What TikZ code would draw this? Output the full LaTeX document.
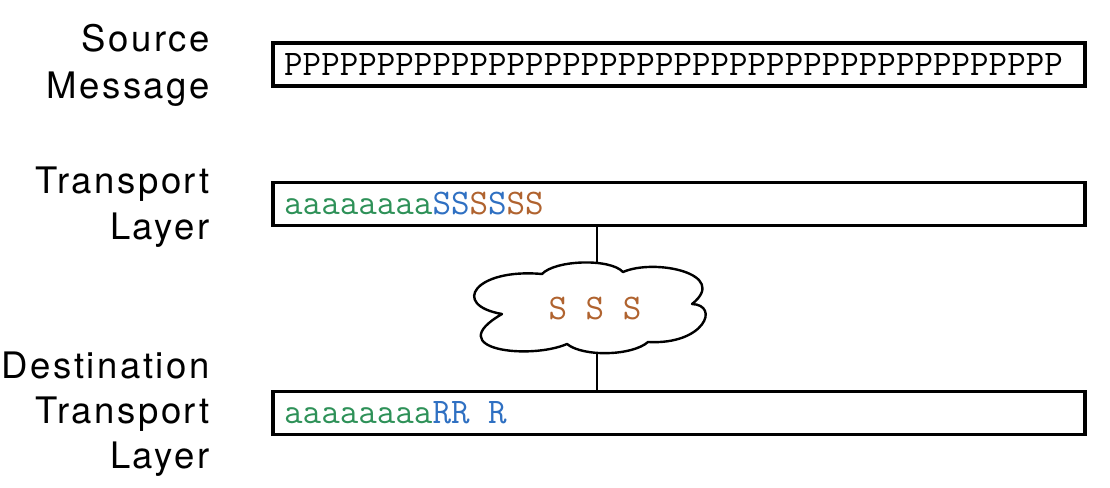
\documentclass[tikz,border=0pt]{standalone}
\usepackage{fontspec}
\newfontfamily\labfont[LetterSpace=7]{TeX Gyre Heros}
\definecolor{cgreen}{HTML}{2E9158}
\definecolor{cblue}{HTML}{2F70C2}
\definecolor{cbrown}{HTML}{B0632F}
\tikzset{
  lab/.style={anchor=base east, inner sep=0pt, font=\labfont\fontsize{36.5}{40}\selectfont},
  msgbox/.style={draw, line width=3.8pt, minimum width=812pt, minimum height=43pt, inner sep=0pt},
  mono/.style={anchor=base west, inner sep=0pt, font=\ttfamily\fontsize{36}{40}\selectfont},
  conn/.style={line width=2pt},
  cloudline/.style={line width=2.4pt, line join=round},
}
\begin{document}
\begin{tikzpicture}[x=1pt,y=-1pt]
\useasboundingbox (0,0) rectangle (1110,487);
% labels
\node[lab] (l1) at (210,52) {Source};
\node[lab] (l2) at (210,98) {Message};
\node[lab] (l3) at (210,193) {Transport};
\node[lab] (l4) at (210,239) {Layer};
\node[lab] (l5) at (210,378) {Destination};
\node[lab] (l6) at (210,423) {Transport};
\node[lab] (l7) at (210,468) {Layer};
% boxes
\node[msgbox] (sbox) at (679,64.5) {};
\node[msgbox] (tbox) at (679,204) {};
\node[msgbox] (dbox) at (679,413) {};
% texts
\node[mono] (stext) at (284,75) {PPPPPPPPPPPPPPPPPPPPPPPPPPPPPPPPPPPPPPPPPP};
\node[mono] (ttext) at (284,214) {\textcolor{cgreen}{aaaaaaaa}\textcolor{cblue}{SS}\textcolor{cbrown}{S}\textcolor{cblue}{S}\textcolor{cbrown}{SS}};
\node[mono] (dtext) at (284,423) {\textcolor{cgreen}{aaaaaaaa}\textcolor{cblue}{RR R}};
% cloud
\draw[cloudline] (542,274)
  .. controls (555,260) and (610,258) .. (623,272)
  .. controls (655,258) and (730,274) .. (692,304)
  .. controls (720,305) and (705,345) .. (648,342)
  .. controls (632,356) and (583,357) .. (567,344)
  .. controls (530,360) and (440,350) .. (502,314)
  .. controls (450,305) and (475,268) .. cycle;
\coordinate (ctop) at (597,263.5);
\coordinate (cbot) at (597,353.5);
\node[mono, anchor=base, text=cbrown] (ctext) at (595,319) {S S S};
\draw[conn] (ctop) -- (ctop |- tbox.south);
\draw[conn] (cbot) -- (cbot |- dbox.north);
\end{tikzpicture}
\end{document}
